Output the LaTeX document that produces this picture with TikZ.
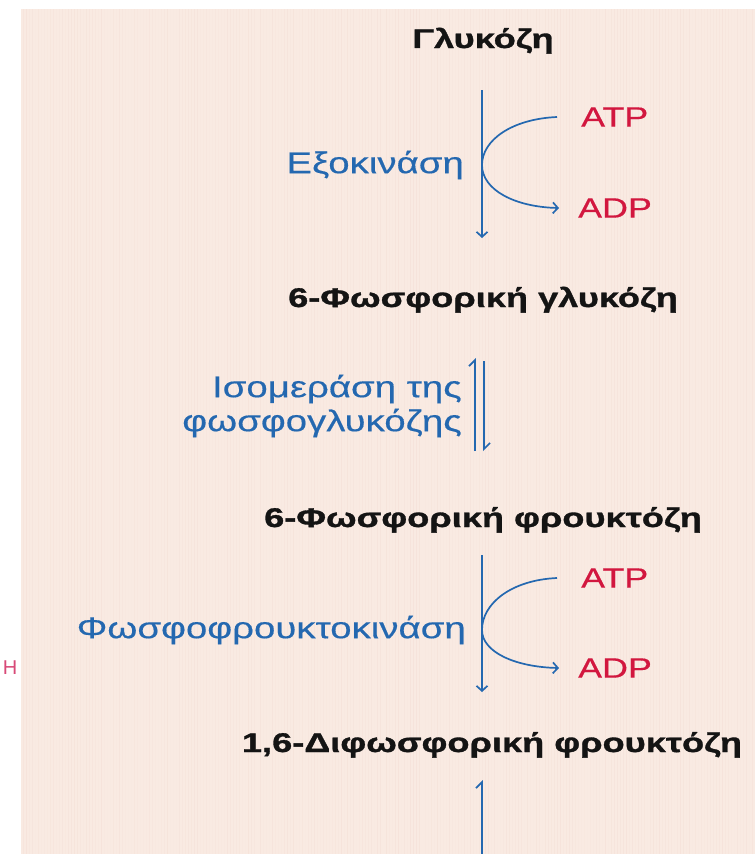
\documentclass[tikz,border=0pt]{standalone}
\usepackage{fontspec}
\setmainfont{Liberation Sans}
\newfontfamily\headfont{Liberation Sans}[FakeStretch=1.34,FakeBold=1.2]
\newfontfamily\lblfont{Liberation Sans}[FakeStretch=1.28,FakeBold=0.4]
\usetikzlibrary{arrows.meta}

\definecolor{bgpeach}{HTML}{F9EAE2}
\definecolor{stripe}{HTML}{EDD0C6}
\definecolor{pathblue}{HTML}{2468B0}
\definecolor{atpred}{HTML}{D2173F}
\definecolor{markpink}{HTML}{D84A78}
\definecolor{inkblack}{HTML}{141414}

\tikzset{
  metab/.style={inner sep=0pt, text=inkblack, font=\headfont\bfseries\fontsize{27}{32}\selectfont},
  enzyme/.style={inner sep=0pt, text=pathblue, font=\lblfont\fontsize{30}{34}\selectfont},
  cofactor/.style={inner sep=0pt, text=atpred, font=\lblfont\fontsize{28}{32}\selectfont},
  flow/.style={draw=pathblue, line width=1.7pt, -{Straight Barb[length=5pt,width=11pt,line width=1.7pt]}},
  halfflow/.style={draw=pathblue, line width=1.7pt, -{Straight Barb[left,length=6pt,width=12pt,line width=1.7pt]}},
}

\begin{document}
\begin{tikzpicture}[x=1pt,y=-1pt]
  \useasboundingbox (0,0) rectangle (755,854);
  \fill[white] (0,0) rectangle (755,854);
  \fill[bgpeach] (21,9) rectangle (755,854);
  % faint vertical paper grain
  \pgfmathsetseed{11}
  \foreach \x in {23,26,...,754}{
    \pgfmathsetmacro\op{rnd*0.25}
    \draw[stripe, line width=1pt, opacity=\op] (\x,9) -- (\x,854);
  }

  % metabolites
  \node[metab, anchor=base] (glc) at (483,48) {Γλυκόζη};
  \node[metab, anchor=base] (g6p) at (483,307) {6-Φωσφορική γλυκόζη};
  \node[metab, anchor=base] (f6p) at (483,527) {6-Φωσφορική φρουκτόζη};
  \node[metab, anchor=base] (fbp) at (492,752) {1,6-Διφωσφορική φρουκτόζη};

  % step 1: hexokinase
  \coordinate (s1top) at (482,90);
  \coordinate (s1bot) at (482,238);
  \draw[flow] (s1top) -- (s1bot);
  \node[enzyme, anchor=east] (hk) at (464,165) {Εξοκινάση};
  \node[cofactor, anchor=west] (atp1) at (581,117) {ATP};
  \node[cofactor, anchor=west] (adp1) at (578,208) {ADP};
  \draw[flow] ([xshift=-24pt]atp1.west) .. controls (512,119) and (482,140) .. (482,165)
              .. controls (482,190) and (515,207) .. ([xshift=-19pt]adp1.west);

  % step 2: phosphoglucose isomerase (reversible)
  \node[enzyme, anchor=east, align=right] (pgi) at (462,406) {Ισομεράση της\\φωσφογλυκόζης};
  \coordinate (s2lb) at (475,451);
  \coordinate (s2lt) at (475,358);
  \coordinate (s2rt) at (484,361);
  \coordinate (s2rb) at (484,451);
  \draw[halfflow] (s2lb) -- (s2lt);
  \draw[halfflow] (s2rt) -- (s2rb);

  % step 3: phosphofructokinase
  \coordinate (s3top) at (482,555);
  \coordinate (s3bot) at (482,692);
  \draw[flow] (s3top) -- (s3bot);
  \node[enzyme, anchor=east] (pfk) at (466,630) {Φωσφοφρουκτοκινάση};
  \node[cofactor, anchor=west] (atp2) at (581,578) {ATP};
  \node[cofactor, anchor=west] (adp2) at (578,668) {ADP};
  \draw[flow] ([xshift=-24pt]atp2.west) .. controls (512,580) and (482,603) .. (482,630)
              .. controls (482,652) and (515,667) .. ([xshift=-19pt]adp2.west);

  % step 4: aldolase (continues below)
  \coordinate (s4bot) at (482,854);
  \coordinate (s4top) at (482,780);
  \draw[halfflow] (s4bot) -- (s4top);

  % margin mark
  \node[inner sep=0pt, text=markpink, font=\fontsize{20}{22}\selectfont] (mark) at (10,668) {Η};
\end{tikzpicture}
\end{document}
